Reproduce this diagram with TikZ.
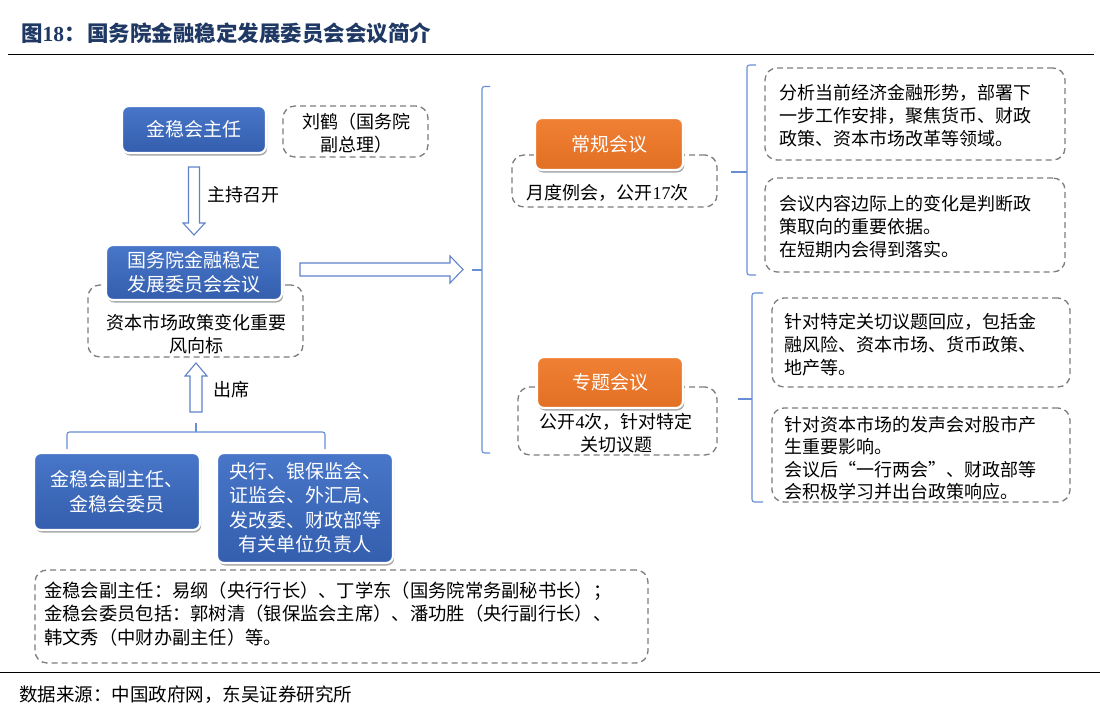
\documentclass[tikz,border=0pt]{standalone}
\usepackage{fontspec}
\setmainfont{Noto Sans CJK SC}
\newfontfamily\lat{Liberation Serif}
\usetikzlibrary{shadows}
\definecolor{navy}{RGB}{31,56,100}
\definecolor{boxblue}{RGB}{72,118,200}
\definecolor{boxbluedark}{RGB}{52,94,174}
\definecolor{boxorange}{RGB}{240,128,52}
\definecolor{boxorangedark}{RGB}{226,112,36}
\definecolor{dashgray}{RGB}{125,125,125}
\definecolor{bracecol}{RGB}{104,143,212}
\definecolor{arrowcol}{RGB}{96,130,200}
\begin{document}
\begin{tikzpicture}[x=1pt,y=-1pt,
  fillbox/.style={rounded corners=7pt, draw=white, line width=2.2pt, text=white,
    align=center, inner sep=0pt,
    drop shadow={shadow xshift=1.2pt, shadow yshift=-2.5pt, opacity=0.35, fill=black}},
  bluebox/.style={fillbox, top color=boxblue, bottom color=boxbluedark,
    font=\fontsize{19}{24.5}\selectfont},
  orangebox/.style={fillbox, top color=boxorange, bottom color=boxorangedark,
    font=\fontsize{19}{24}\selectfont},
  notebox/.style={draw=dashgray, dash pattern=on 6pt off 4pt, line width=1.3pt,
    rounded corners=12pt, inner sep=0pt, fill=white},
  notetext/.style={inner sep=0pt, text=black, font=\fontsize{18}{23}\selectfont},
  hollow/.style={draw=arrowcol, fill=white, line width=1.1pt, line join=miter},
  bracket/.style={draw=bracecol, line width=1.1pt, rounded corners=2.5pt}]
\useasboundingbox (0,0) rectangle (1100,717);
\fill[white] (0,0) rectangle (1100,717);

% title
\node[anchor=west, inner sep=0pt, text=navy, font=\fontsize{21.5}{24}\selectfont\bfseries]
  (title) at (21,33) {图{\lat\bfseries 18}：\hspace{1.5pt}国务院金融稳定发展委员会会议简介};
\draw[line width=1.8pt] (8,54.5) -- (1094,54.5);

% ---------- left column ----------
\node[notebox, minimum width=145pt, minimum height=51pt] (liuhebox) at (355.5,131.5) {};
\node[notetext, align=center, font=\fontsize{18}{23}\selectfont] (liuhe) at (356,133) {刘鹤（国务院\\副总理）};
\node[bluebox, minimum width=144pt, minimum height=47pt] (zhuren) at (194,129.5) {金稳会主任};

\draw[hollow] (188.5,167) -- (199.5,167) -- (199.5,223) -- (205,223) -- (194,235)
  -- (183,223) -- (188.5,223) -- cycle;
\node[notetext, anchor=west] (zhuchi) at (207,195) {主持召开};

\node[notebox, minimum width=215pt, minimum height=72pt] (fengxiangbox) at (195.5,321) {};
\node[notetext, align=center] (fengxiang) at (196,334.5) {资本市场政策变化重要\\风向标};
\node[bluebox, minimum width=176pt, minimum height=55pt] (meeting) at (194,272.5)
  {国务院金融稳定\\发展委员会会议};

\draw[hollow] (190,412) -- (202,412) -- (202,376) -- (207,376) -- (196,363)
  -- (185,376) -- (190,376) -- cycle;
\node[notetext, anchor=west] (chuxi) at (213,390) {出席};

\draw[bracket] (67,449) -- (67,432) -- (325,432) -- (325,449);
\draw[draw=bracecol, line width=1.1pt] (196,432) -- (196,423);

\node[bluebox, minimum width=166pt, minimum height=77pt] (fuzhuren) at (117,491.5)
  {金稳会副主任、\\金稳会委员};
\node[bluebox, minimum width=176pt, minimum height=110pt] (danwei) at (305,508)
  {央行、银保监会、\\证监会、外汇局、\\发改委、财政部等\\有关单位负责人};

\node[notebox, minimum width=613pt, minimum height=93pt] (membersbox) at (341.5,616.5) {};
\node[notetext, anchor=west, align=left, font=\fontsize{18.3}{23.5}\selectfont] (members) at (44,614)
  {金稳会副主任：易纲（央行行长）、丁学东（国务院常务副秘书长）；\\
   金稳会委员包括：郭树清（银保监会主席）、潘功胜（央行副行长）、\\
   韩文秀（中财办副主任）等。};

% ---------- middle ----------
\draw[hollow] (300,263) -- (450,263) -- (450,256) -- (463,269.5) -- (450,283)
  -- (450,276) -- (300,276) -- cycle;

\draw[bracket] (490,86.5) -- (482,86.5) -- (482,453) -- (490,453);
\draw[draw=bracecol, line width=1.1pt] (482,270) -- (472,270);

\node[notebox, minimum width=205pt, minimum height=52pt] (yuedubox) at (614.5,181) {};
\node[notetext] (yuedu) at (607.5,193) {月度例会，公开{\lat 17}次};
\node[orangebox, minimum width=148pt, minimum height=52pt] (changgui) at (609,144) {常规会议};

\node[notebox, minimum width=199pt, minimum height=68pt] (gongkaibox) at (617.5,421) {};
\node[notetext, align=center] (gongkai) at (616,433) {公开{\lat 4}次，针对特定\\关切议题};
\node[orangebox, minimum width=146pt, minimum height=51pt] (zhuanti) at (610,382.5) {专题会议};

% ---------- right column ----------
\draw[bracket] (756,65) -- (747,65) -- (747,275) -- (756,275);
\draw[draw=bracecol, line width=1.1pt] (747,172) -- (731,172);

\node[notebox, minimum width=300pt, minimum height=92pt] (note1box) at (915,114) {};
\node[notetext, anchor=west, align=left] (note1) at (779,116)
  {分析当前经济金融形势，部署下\\一步工作安排，聚焦货币、财政\\政策、资本市场改革等领域。};

\node[notebox, minimum width=300pt, minimum height=94pt] (note2box) at (915,225) {};
\node[notetext, anchor=west, align=left] (note2) at (779,227)
  {会议内容边际上的变化是判断政\\策取向的重要依据。\\在短期内会得到落实。};

\draw[bracket] (763,293) -- (752,293) -- (752,502) -- (763,502);
\draw[draw=bracecol, line width=1.1pt] (752,399) -- (738,399);

\node[notebox, minimum width=298pt, minimum height=89pt] (note3box) at (921,342.5) {};
\node[notetext, anchor=west, align=left] (note3) at (784,344.5)
  {针对特定关切议题回应，包括金\\融风险、资本市场、货币政策、\\地产等。};

\node[notebox, minimum width=298pt, minimum height=94pt] (note4box) at (921,455) {};
\node[notetext, anchor=west, align=left, font=\fontsize{18}{22.5}\selectfont] (note4) at (784,458)
  {针对资本市场的发声会对股市产\\生重要影响。\\会议后“一行两会”、财政部等\\会积极学习并出台政策响应。};

% ---------- footer ----------
\draw[line width=1.8pt] (0,672.5) -- (1100,672.5);
\node[anchor=west, inner sep=0pt, font=\fontsize{18.5}{22}\selectfont] (source) at (19,695)
  {数据来源：中国政府网，东吴证券研究所};
\end{tikzpicture}
\end{document}
